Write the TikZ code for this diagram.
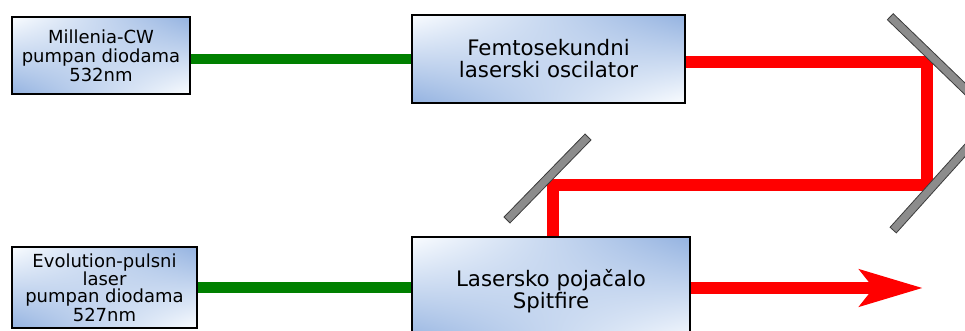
\documentclass[tikz,border=0pt]{standalone}
\usepackage{fontspec}
\setmainfont{DejaVu Sans}
\usetikzlibrary{arrows.meta}
\definecolor{beamred}{RGB}{255,0,0}
\definecolor{pumpgreen}{RGB}{0,128,0}
\definecolor{mirrorgray}{RGB}{140,140,140}
\definecolor{mirroredge}{RGB}{60,60,60}
% bilinear fill: white at top-left and bottom-right, blue at top-right and bottom-left
\pgfdeclarefunctionalshading{boxshade}{\pgfpointorigin}{\pgfpoint{100bp}{100bp}}{}{%
  25 sub 50 div exch 25 sub 50 div
  2 copy mul 2 mul 3 1 roll add exch sub
  dup dup
  0.40 mul 0.58 add 3 1 roll
  0.29 mul 0.70 add exch
  0.12 mul 0.88 add
}
\pgfdeclarelayer{background}
\pgfsetlayers{background,main}
\tikzset{
  unitbox/.style={draw=black, line width=1.5pt, align=center, inner sep=0pt,
    shading=boxshade},
  smallbox/.style={unitbox, font=\fontsize{13.5pt}{14.2pt}\selectfont},
  bigbox/.style={unitbox, font=\fontsize{16pt}{16.5pt}\selectfont},
  greenbeam/.style={draw=pumpgreen, line width=8pt},
  redbeam/.style={draw=beamred, line width=9pt, line join=miter},
  mirror/.style={draw=mirroredge, fill=mirrorgray, line width=0.6pt,
    minimum width=87pt, minimum height=6.3pt, inner sep=0pt}
}
\begin{document}
\begin{tikzpicture}[x=0.75pt,y=-0.75pt]
\useasboundingbox (0,0) rectangle (965,331);
\clip (0,0) rectangle (965,331);
% boxes
\node[smallbox, minimum width=133.5pt, minimum height=57.75pt] (mil) at (101,55.5)
  {Millenia-CW\\pumpan diodama\\532nm};
\node[bigbox, line width=1.9pt, minimum width=204.75pt, minimum height=66pt] (fem) at (548.5,59)
  {Femtosekundni\\laserski oscilator};
\node[bigbox, minimum width=208.5pt, minimum height=81pt] (spit) at (551,291)
  {Lasersko pojačalo\\Spitfire};
\node[smallbox, font=\fontsize{13.5pt}{12.8pt}\selectfont, minimum width=138.75pt, minimum height=60.75pt] (evo) at (104.5,287.5)
  {Evolution-pulsni\\laser\\pumpan diodama\\527nm};
% beam corners
\coordinate (c1) at (927,62);
\coordinate (c2) at (927,185.5);
\coordinate (c3) at (553,185.5);
\coordinate (tip) at (923,288);
% beams
\begin{pgfonlayer}{background}
\draw[greenbeam] (mil.east |- fem.west) -- (fem.west);
\draw[greenbeam] (evo.east) -- (evo.east -| spit.west);
\draw[redbeam] (fem.east |- c1) -- (c1) -- (c2) -- (c3) -- (c3 |- spit.north);
\draw[redbeam, -{Stealth[length=47pt, width=27pt, inset=10pt]}] (tip -| spit.east) -- (tip);
\end{pgfonlayer}
% mirrors
\node[mirror, rotate=-44] (m1) at (932,57) {};
\node[mirror, rotate=48] (m2) at (932,187) {};
\node[mirror, rotate=45.7] (m3) at (547.5,178.5) {};
\end{tikzpicture}
\end{document}
